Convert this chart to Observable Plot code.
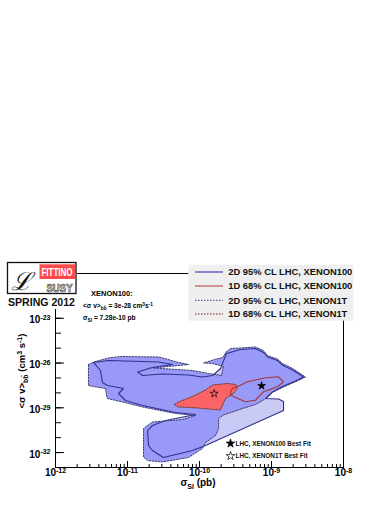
<!DOCTYPE html>
<html><head><meta charset="utf-8">
<script src="https://cdn.jsdelivr.net/npm/d3@7"></script>
<script src="https://cdn.jsdelivr.net/npm/@observablehq/plot@0.6"></script>
<style>
html,body{margin:0;padding:0;background:#fff;}
#chart{position:relative;width:390px;height:505px;overflow:hidden;}
svg{font-family:"Liberation Sans",Arial,Helvetica,sans-serif;}
</style></head><body><div id="chart"></div>
<script>
// ---- axes ----
const xDomain = [1e-12, 1e-8];
const yDomain = [1e-33, 1e-20];
const xMajorTicks = [1e-12, 1e-11, 1e-10, 1e-9, 1e-8];
const xTickLabels = ["10^-12", "10^-11", "10^-10", "10^-9", "10^-8"];
const yMajorTicks = [1e-32, 1e-29, 1e-26, 1e-23];
const yTickLabels = ["10^-32", "10^-29", "10^-26", "10^-23"];

// ---- legend ----
const legendLabels = ["2D 95% CL LHC, XENON100", "1D 68% CL LHC, XENON100", "2D 95% CL LHC, XENON1T", "1D 68% CL LHC, XENON1T"];
const starLabels = ["LHC, XENON100 Best Fit", "LHC, XENON1T Best Fit"];

// ---- regions [sigma_SI (pb), <sigma v> (cm^3 s^-1)] ----
const xenon1T2D = [
[2.87e-12,7.98e-27],[3.59e-12,1.27e-26],[5.45e-12,2.18e-26],[8.0e-12,2.74e-26],[2.70e-11,2.54e-26],[3.48e-11,1.87e-26],
[4.79e-11,1.17e-26],[7.03e-11,7.98e-27],[2.30e-11,4.65e-27],[8.0e-11,3.16e-27],[1.33e-10,1.99e-27],[2.02e-10,1.46e-27],
[2.15e-10,5.86e-27],[1.52e-10,9.31e-27],[1.14e-10,1.01e-26],[1.62e-10,1.73e-26],[2.09e-10,2.35e-26],[2.37e-10,5.93e-26],
[2.70e-10,9.42e-26],[3.71e-10,1.02e-25],[6.0e-10,1.19e-25],[7.74e-10,6.92e-26],[8.80e-10,3.20e-26],[1.21e-9,1.87e-26],
[1.42e-9,9.31e-27],[1.96e-9,4.31e-27],[2.97e-9,1.16e-27],[2.37e-9,6.76e-28],[1.42e-9,2.30e-28],[1.03e-9,1.06e-28],
[8.80e-10,4.91e-29],[7.50e-10,3.09e-29],[6.0e-10,1.67e-29],[3.95e-10,8.99e-30],[2.15e-10,3.30e-30],[1.84e-10,1.92e-30],
[1.84e-10,4.10e-31],[1.67e-10,1.39e-31],[1.21e-10,4.73e-32],[1.10e-10,1.88e-32],[7.03e-11,4.68e-33],[3.06e-11,2.34e-33],
[1.90e-11,2.94e-33],[1.67e-11,5.04e-33],[1.67e-11,4.10e-31],[2.22e-11,1.12e-30],[5.81e-11,1.64e-30],[8.80e-11,3.05e-30],
[4.64e-11,4.16e-30],[1.62e-11,1.13e-29],[8.53e-12,2.45e-29],[5.27e-12,4.21e-29],[5.11e-12,6.68e-29],[4.95e-12,1.97e-28],
[3.37e-12,2.68e-28],[2.87e-12,3.13e-28]
];
const xenon1002D = [
[3.37e-12,1.09e-26],[5.45e-12,1.48e-26],[1.62e-11,1.27e-26],[2.70e-11,1.17e-26],[4.22e-11,7.98e-27],[2.22e-11,5.02e-27],
[1.38e-11,2.51e-27],[1.62e-11,1.46e-27],[3.06e-11,1.84e-27],[7.03e-11,1.58e-27],[1.10e-10,1.16e-27],[1.52e-10,1.46e-27],
[1.96e-10,4.31e-27],[2.37e-10,4.36e-26],[3.71e-10,8.07e-26],[6.0e-10,9.42e-26],[7.74e-10,5.08e-26],[8.80e-10,2.54e-26],
[1.21e-9,1.48e-26],[1.42e-9,7.39e-27],[1.96e-9,3.42e-27],[2.78e-9,1.16e-27],[2.30e-9,7.30e-28],[1.42e-9,2.68e-28],
[1.03e-9,1.15e-28],[8.25e-10,4.21e-29],[1.25e-9,3.89e-29],[1.47e-9,2.65e-29],[1.47e-9,6.60e-30],[1.21e-10,2.98e-32],
[8.0e-11,1.38e-32],[3.16e-11,4.68e-33],[2.22e-11,1.38e-32],[1.96e-11,2.98e-32],[1.90e-11,3.01e-31],[2.22e-11,6.52e-31],
[3.37e-11,1.41e-30],[4.64e-11,1.92e-30],[8.80e-11,3.56e-30],[4.64e-11,4.85e-30],[1.62e-11,1.43e-29],[9.38e-12,3.09e-29],
[8.80e-12,4.21e-29],[7.50e-12,9.1e-29],[8.80e-12,1.97e-28],[7.50e-12,2.30e-28],[5.27e-12,3.13e-28],[4.49e-12,4.96e-28],
[4.22e-12,3.16e-27]
];
const xenon1T1D = [
[4.49e-11,1.67e-29],[5.11e-11,2.45e-29],[8.0e-11,5.73e-29],[1.21e-10,1.56e-28],[1.52e-10,3.38e-28],[2.45e-10,4.25e-28],
[3.16e-10,3.65e-28],[3.37e-10,1.97e-28],[2.97e-10,9.1e-29],[2.30e-10,4.21e-29],[2.09e-10,1.54e-29],[1.96e-10,7.14e-30],
[1.33e-10,8.32e-30],[9.68e-11,9.7e-30],[5.11e-11,1.13e-29]
];
const xenon1001D = [
[2.70e-10,1.18e-28],[2.87e-10,1.97e-28],[3.71e-10,3.27e-28],[4.64e-10,5.53e-28],[8.25e-10,1.03e-27],[1.25e-9,1.20e-27],
[1.47e-9,5.53e-28],[1.21e-9,2.56e-28],[7.74e-10,1.18e-28],[6.59e-10,5.47e-29],[6.0e-10,3.23e-29],[4.35e-10,2.53e-29],
[2.70e-10,7.0e-29]
];
const bestFitXenon100 = [[7.28e-10, 3e-28]];
const bestFitXenon1T = [[1.6e-10, 9e-29]];

// ---- colours ----
const colLight = "#cacaf6", colMid = "#9999f7", colRed = "#fb6464";
const colBlueLine = "#30308e", colRedLine = "#a33636", colDash = "#3e3e70", colRedDash = "#703838";

const W = 390, H = 505, mT = 273, mL = 55, mR = 47, mB = 38;
const innerH = H - mT - mB, innerW = W - mL - mR;
const xMinor = d3.scaleLog().domain(xDomain).ticks().filter(v => !xMajorTicks.some(m => Math.abs(m - v) / m < 1e-6));
const yDecades = d3.range(-33, -20).map(e => Math.pow(10, e));

const X = d => d[0], Y = d => d[1];
const poly = (data, o) => Plot.line(data, {x: X, y: Y, curve: "linear-closed", ...o});

const chart = Plot.plot({
  width: W, height: H, marginTop: mT, marginLeft: mL, marginRight: mR, marginBottom: mB,
  x: {type: "log", domain: xDomain, axis: null},
  y: {type: "log", domain: yDomain, axis: null},
  style: {fontFamily: "Liberation Sans, Arial, sans-serif", background: "white", overflow: "visible"},
  marks: [
    poly(xenon1002D, {fill: colLight, stroke: "none"}),
    poly(xenon1T2D, {fill: colMid, stroke: "none"}),
    poly(xenon1T1D, {fill: colRed, stroke: "none"}),
    poly(xenon1002D, {fill: "none", stroke: colBlueLine, strokeWidth: 1.1}),
    poly(xenon1T2D, {fill: "none", stroke: colDash, strokeWidth: 1, strokeDasharray: "1.6,1.4"}),
    poly(xenon1T1D, {fill: "none", stroke: colRedDash, strokeWidth: 1, strokeDasharray: "1.6,1.4"}),
    poly(xenon1001D, {fill: "none", stroke: colRedLine, strokeWidth: 1.1}),
    Plot.dot(bestFitXenon100, {x: X, y: Y, symbol: "star", r: 2.5, fill: "black", stroke: "black", strokeWidth: 0.6}),
    Plot.dot(bestFitXenon1T, {x: X, y: Y, symbol: "star", r: 2.5, fill: "none", stroke: "black", strokeWidth: 0.7}),
    Plot.frame({stroke: "black", strokeWidth: 1}),
    Plot.tickX(xMinor, {x: d => d, insetTop: innerH - 3, stroke: "black"}),
    Plot.tickX(xMajorTicks, {x: d => d, insetTop: innerH - 6, stroke: "black"}),
    Plot.tickY(yDecades, {y: d => d, insetRight: innerW - 6, stroke: "black"}),
    Plot.tickY(yMajorTicks, {y: d => d, insetRight: innerW - 9, stroke: "black"}),
    Plot.text(xMajorTicks, {x: d => d, text: (d, i) => xTickLabels[i], frameAnchor: "bottom", lineAnchor: "top", dy: 1.5, fontSize: 10, fontWeight: "bold", fill: "black"}),
    Plot.text(yMajorTicks, {y: d => d, text: (d, i) => yTickLabels[i], frameAnchor: "left", textAnchor: "end", dx: -5, dy: 2, fontSize: 10, fontWeight: "bold", fill: "black"})
  ]
});
document.getElementById("chart").appendChild(chart);

const svg = d3.select(chart);
// superscript tick labels
svg.selectAll("text").each(function() {
  const t = this.textContent, m = /^10\^(-?\d+)$/.exec(t);
  if (!m) return;
  const s = d3.select(this);
  s.text("10");
  s.append("tspan").attr("dy", "-0.5em").attr("font-size", "70%").text(m[1]);
});

const g = svg.append("g").attr("font-family", "Liberation Sans, Arial, sans-serif").attr("font-weight", "bold")
  .attr("text-anchor", "start").attr("fill", "black");

// axis titles
const xt = g.append("text").attr("x", 198).attr("y", 486).attr("text-anchor", "middle").attr("font-size", 10);
xt.append("tspan").text("σ");
xt.append("tspan").attr("dy", 3).attr("font-size", 7).text("SI");
xt.append("tspan").attr("dy", -3).text(" (pb)");

const yt = g.append("text").attr("transform", "translate(25,371) rotate(-90)").attr("text-anchor", "middle").attr("font-size", 9.5);
yt.append("tspan").text("<σ v>");
yt.append("tspan").attr("dy", 3).attr("font-size", 7).text("bb̄");
yt.append("tspan").attr("dy", -3).text(" (cm");
yt.append("tspan").attr("dy", -3.5).attr("font-size", 7).text("3");
yt.append("tspan").attr("dy", 3.5).text(" s");
yt.append("tspan").attr("dy", -3.5).attr("font-size", 7).text("-1");
yt.append("tspan").attr("dy", 3.5).text(")");

// logo area (white backing)
g.append("rect").attr("x", 0).attr("y", 255).attr("width", 77).attr("height", 54).attr("fill", "white");
g.append("rect").attr("x", 7.5).attr("y", 262.5).attr("width", 68.5).attr("height", 31).attr("fill", "white").attr("stroke", "#111").attr("stroke-width", 1.3);
g.append("text").attr("x", 11).attr("y", 290).attr("font-family", "DejaVu Serif, serif").attr("font-style", "italic").attr("font-weight", "normal")
  .attr("font-size", 25).attr("fill", "#111").text("ℒ");
g.append("rect").attr("x", 39.5).attr("y", 264.3).attr("width", 35.5).attr("height", 14.7).attr("fill", "#ff4b4b");
g.append("text").attr("x", 41.5).attr("y", 276).attr("font-size", 10.5).attr("fill", "white")
  .attr("textLength", 31).attr("lengthAdjust", "spacingAndGlyphs").text("FITTINO");
g.append("text").attr("x", 46.5).attr("y", 292).attr("font-size", 10).attr("fill", "#e8e8e8").attr("stroke", "#333").attr("stroke-width", 0.6)
  .attr("textLength", 26).attr("lengthAdjust", "spacingAndGlyphs").text("SUSY");
g.append("text").attr("x", 8).attr("y", 306).attr("font-size", 10.5).attr("fill", "#111")
  .attr("textLength", 67).attr("lengthAdjust", "spacingAndGlyphs").text("SPRING 2012");

// best-fit info
g.append("text").attr("x", 91).attr("y", 296).attr("font-size", 7.5).text("XENON100:");
const l2 = g.append("text").attr("x", 83).attr("y", 308).attr("font-size", 6.6);
l2.append("tspan").text("<σ v>");
l2.append("tspan").attr("dy", 2).attr("font-size", 4.8).text("bb̄");
l2.append("tspan").attr("dy", -2).text(" = 3e-28 cm");
l2.append("tspan").attr("dy", -2.5).attr("font-size", 4.8).text("3");
l2.append("tspan").attr("dy", 2.5).text("s");
l2.append("tspan").attr("dy", -2.5).attr("font-size", 4.8).text("-1");
const l3 = g.append("text").attr("x", 83).attr("y", 320).attr("font-size", 6.6);
l3.append("tspan").text("σ");
l3.append("tspan").attr("dy", 2).attr("font-size", 4.8).text("SI");
l3.append("tspan").attr("dy", -2).text(" = 7.28e-10 pb");

// line legend
g.append("rect").attr("x", 188.3).attr("y", 264.7).attr("width", 165).attr("height", 56).attr("fill", "#efefef");
const legStyles = [
  {stroke: "#5050b4", dash: null}, {stroke: "#c46464", dash: null},
  {stroke: "#5c5ca6", dash: "1.5,1.5"}, {stroke: "#a66060", dash: "1.5,1.5"}
];
const rowsY = [272, 286, 300.3, 314];
legendLabels.forEach((lab, i) => {
  const ln = g.append("line").attr("x1", 195).attr("x2", 223).attr("y1", rowsY[i]).attr("y2", rowsY[i])
    .attr("stroke", legStyles[i].stroke).attr("stroke-width", 1.3);
  if (legStyles[i].dash) ln.attr("stroke-dasharray", legStyles[i].dash);
  g.append("text").attr("x", 228.3).attr("y", rowsY[i] + 3.2).attr("font-size", 8.8).attr("fill", "#111")
    .attr("textLength", i < 2 ? 124 : 119).attr("lengthAdjust", "spacingAndGlyphs").text(lab);
});

// star legend
const star = d3.symbol(d3.symbolStar, Math.PI * 2.7 * 2.7);
const starY = [443.5, 456];
starLabels.forEach((lab, i) => {
  g.append("path").attr("d", star()).attr("transform", `translate(230.5,${starY[i]})`)
    .attr("fill", i === 0 ? "black" : "white").attr("stroke", "black").attr("stroke-width", 0.7);
  g.append("text").attr("x", 235.5).attr("y", starY[i] + 2.3).attr("font-size", 6.4).attr("fill", "#111").text(lab);
});
</script></body></html>
